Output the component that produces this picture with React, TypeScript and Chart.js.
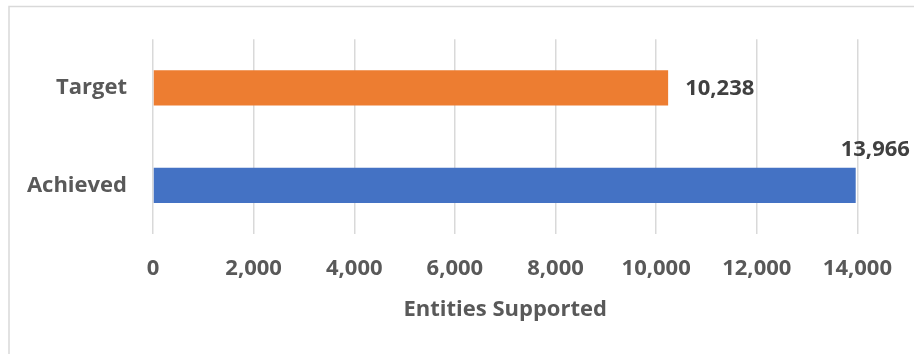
import React, { useEffect, useRef } from "react";
import { Chart, registerables } from "chart.js";

Chart.register(...registerables);

const categories = ["Target", "Achieved"];
const values = [10238, 13966];
const barColors = ["#ED7D31", "#4472C4"];
const axisTitle = "Entities Supported";
const xMin = 0;
const xMax = 14000;
const xStep = 2000;

const FONT = "'Open Sans', 'Noto Sans', sans-serif";

const framePlugin = {
  id: "frame",
  beforeDraw(chart: any) {
    const ctx = chart.ctx;
    ctx.save();
    ctx.fillStyle = "#ffffff";
    ctx.fillRect(0, 0, chart.width, chart.height);
    ctx.strokeStyle = "#d9d9d9";
    ctx.lineWidth = 1.5;
    ctx.beginPath();
    ctx.moveTo(9, chart.height + 5);
    ctx.lineTo(9, 6.5);
    ctx.lineTo(chart.width + 5, 6.5);
    ctx.stroke();
    ctx.restore();
  },
};

const labelPlugin = {
  id: "barLabels",
  afterDatasetsDraw(chart: any) {
    const ctx = chart.ctx;
    const meta = chart.getDatasetMeta(0);
    ctx.save();
    ctx.font = `bold 22px ${FONT}`;
    ctx.fillStyle = "#404040";
    meta.data.forEach((bar: any, i: number) => {
      const v = chart.data.datasets[0].data[i] as number;
      const text = v.toLocaleString("en-US");
      const w = ctx.measureText(text).width;
      const fitsRight = bar.x + 17 + w <= chart.width - 2;
      if (fitsRight) {
        ctx.textAlign = "left";
        ctx.textBaseline = "middle";
        ctx.fillText(text, bar.x + 17, bar.y + 1);
      } else {
        ctx.textAlign = "left";
        ctx.textBaseline = "middle";
        ctx.fillText(text, bar.x - 15, bar.y - bar.height / 2 - 18);
      }
    });
    ctx.restore();
  },
};

export default function App() {
  const ref = useRef<HTMLCanvasElement | null>(null);

  useEffect(() => {
    if (!ref.current) return;
    const chart = new Chart(ref.current, {
      type: "bar",
      data: {
        labels: categories,
        datasets: [
          {
            data: values,
            backgroundColor: barColors,
            borderWidth: 0,
            barPercentage: 0.362,
            categoryPercentage: 1,
          },
        ],
      },
      options: {
        indexAxis: "y",
        responsive: false,
        animation: false,
        locale: "en-US",
        layout: { padding: { top: 35, right: 56, left: 0, bottom: 0 } },
        plugins: {
          legend: { display: false },
          tooltip: { enabled: false },
        },
        scales: {
          x: {
            min: xMin,
            max: xMax,
            ticks: {
              stepSize: xStep,
              color: "#595959",
              padding: 22,
              font: { family: FONT, size: 22, weight: "bold" },
            },
            grid: { color: "#d9d9d9", lineWidth: 1.5, drawTicks: false },
            border: { display: false },
            title: {
              display: true,
              text: axisTitle,
              color: "#595959",
              font: { family: FONT, size: 22, weight: "bold" },
              padding: { top: 0, bottom: 31 },
            },
            afterFit(scale: any) {
              scale.height = 120;
            },
          },
          y: {
            ticks: {
              color: "#595959",
              padding: 26,
              font: { family: FONT, size: 22, weight: "bold" },
            },
            grid: { display: false, drawTicks: false },
            border: { display: false },
            afterFit(scale: any) {
              scale.width = 153;
            },
          },
        },
      },
      plugins: [framePlugin, labelPlugin],
    });
    return () => chart.destroy();
  }, []);

  return (
    <div style={{ position: "absolute", left: 0, top: 0, width: 914, height: 354 }}>
      <canvas ref={ref} width={914} height={354} />
    </div>
  );
}
